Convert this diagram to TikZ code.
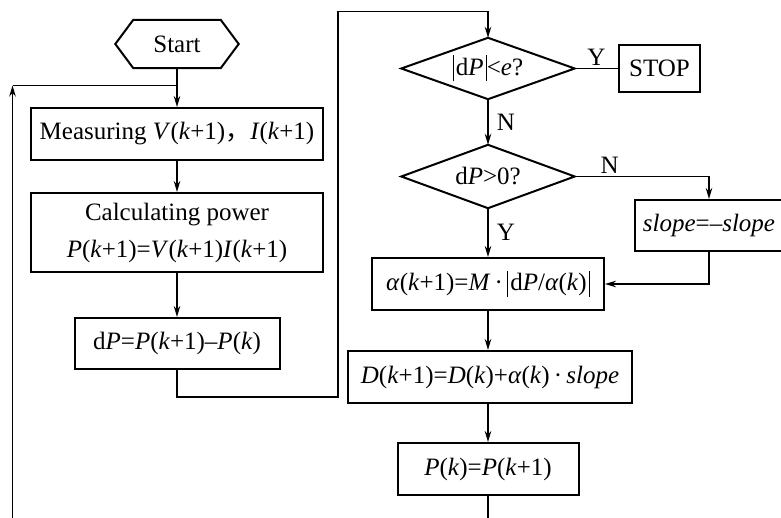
\documentclass[tikz,border=0pt]{standalone}
\usepackage{fontspec}
\setmainfont{Liberation Serif}
\newfontfamily\cjkfont{Noto Sans CJK SC}
\usetikzlibrary{arrows.meta}
\newcommand\vi[1]{\textit{#1}}
\newcommand\tallbar{\rule[-6pt]{1.1pt}{26pt}}

\begin{document}
\begin{tikzpicture}[x=1pt,y=-1pt,
  every node/.style={font=\fontsize{25}{37}\selectfont, inner sep=0pt, align=center},
  box/.style={draw, line width=2pt},
  shapeline/.style={line width=2pt, line join=miter},
  link/.style={line width=1.7pt, -{Stealth[length=11pt,width=6.5pt]}},
  plain/.style={line width=1.7pt},
  lbl/.style={inner sep=2pt}
]
\useasboundingbox (0,0) rectangle (781,518);
\clip (0,0) rectangle (781,518);

% left column
\node[minimum width=123pt, minimum height=48pt] (start) at (177,44) {Start};
\draw[shapeline] ([xshift=18pt]start.north west) -- ([xshift=-18pt]start.north east)
  -- (start.east) -- ([xshift=-18pt]start.south east)
  -- ([xshift=18pt]start.south west) -- (start.west) -- cycle;

\node[box, minimum width=292pt, minimum height=52pt] (meas) at (177,134)
  {Measuring \vi{V}(\vi{k}+1){\cjkfont ，}\vi{I}(\vi{k}+1)};
\node[box, minimum width=292pt, minimum height=79pt] (calc) at (177,232.5)
  {Calculating power\\ \vi{P}(\vi{k}+1)=\vi{V}(\vi{k}+1)\vi{I}(\vi{k}+1)};
\node[box, minimum width=205pt, minimum height=51pt] (dp) at (177,343.5)
  {d\vi{P}=\vi{P}(\vi{k}+1)–\vi{P}(\vi{k})};

% right column
\node[minimum width=173pt, minimum height=61pt] (d1) at (488,68.5)
  {\tallbar\kern2pt d\vi{P}\kern2pt\tallbar<\vi{e}?};
\draw[shapeline] (d1.west) -- (d1.north) -- (d1.east) -- (d1.south) -- cycle;
\node[box, minimum width=81pt, minimum height=47pt] (stop) at (659.5,68.5) {STOP};

\node[minimum width=173pt, minimum height=63pt] (d2) at (488,176.5)
  {d\vi{P}>0?};
\draw[shapeline] (d2.west) -- (d2.north) -- (d2.east) -- (d2.south) -- cycle;

\node[box, minimum width=148pt, minimum height=51pt] (slope) at (709,225.5)
  {\vi{slope}=–\vi{slope}};

\node[box, minimum width=232pt, minimum height=52pt] (alpha) at (488,284)
  {\vi{α}(\vi{k}+1)=\vi{M}\,·\,\tallbar\kern2pt d\vi{P}/\vi{α}(\vi{k})\kern2pt\tallbar};
\node[box, minimum width=284pt, minimum height=52pt] (dnext) at (490,377)
  {\vi{D}(\vi{k}+1)=\vi{D}(\vi{k})+\vi{α}(\vi{k})\,·\,\vi{slope}};
\node[box, minimum width=181pt, minimum height=52pt] (pk) at (488,469)
  {\vi{P}(\vi{k})=\vi{P}(\vi{k}+1)};

% routing points
\coordinate (r1) at (177,397);
\coordinate (r2) at (338,397);
\coordinate (r3) at (338,11.5);
\coordinate (lb) at (12.5,518.5);
\coordinate (lt) at (12.5,85.5);
\coordinate (lj) at (177,85.5);

% connectors
\draw[link] (start) -- (meas);
\draw[link] (meas) -- (calc);
\draw[link] (calc) -- (dp);
\draw[link] (dp.south) -- (r1) -- (r2) -- (r3) -| (d1.north);
\draw[plain] (d1.east) -- node[lbl, above] {Y} (stop.west);
\draw[link] (d1.south) -- node[lbl, right, xshift=6pt] {N} (d2.north);
\draw[link] (d2.east) -| node[lbl, above, pos=0.13] {N} (slope.north);
\draw[link] (d2.south) -- node[lbl, right, xshift=6pt] {Y} (alpha.north);
\draw[link] (slope.south) |- (alpha.east);
\draw[link] (alpha.south) -- (alpha.south |- dnext.north);
\draw[link] (alpha.south |- dnext.south) -- (pk.north);
\draw[link] (pk.south) |- (lb) -- (lt);
\draw[plain] (lt) -- (lj);
\end{tikzpicture}
\end{document}
